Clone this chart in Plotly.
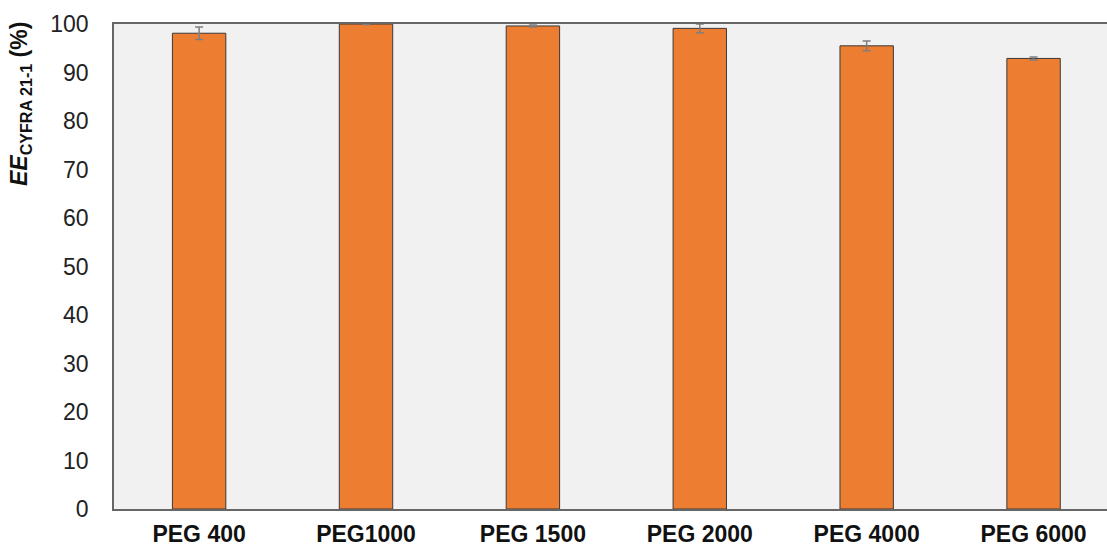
import plotly.graph_objects as go

categories = ["PEG 400", "PEG1000", "PEG 1500", "PEG 2000", "PEG 4000", "PEG 6000"]
values = [98.1, 100.0, 99.6, 99.1, 95.5, 92.9]
errors = [1.3, 0.1, 0.2, 0.9, 1.0, 0.3]
y_ticks = [0, 10, 20, 30, 40, 50, 60, 70, 80, 90, 100]

fig = go.Figure()
fig.add_trace(go.Bar(
    x=categories, y=values,
    marker=dict(color="#ED7D31", line=dict(color="#3a3a3a", width=1)),
    error_y=dict(type="data", array=errors, visible=True, color="#7f7f7f", thickness=1.5, width=4),
    width=0.32,
))

fig.update_layout(
    width=1107, height=547,
    margin=dict(l=114, r=0, t=24, b=38),
    paper_bgcolor="white",
    plot_bgcolor="#f1f1f1",
    showlegend=False,
    font=dict(family="Liberation Sans, Arial", color="#222"),
)
fig.update_xaxes(
    range=[-0.51, 5.44],
    showline=True, linecolor="#666", linewidth=1.5, mirror=True,
    tickfont=dict(size=23, color="#111", family="Liberation Sans, Arial", weight="bold"),
    ticks="", ticklabelstandoff=4, automargin=False,
)
fig.update_yaxes(
    range=[0, 100], tickvals=y_ticks, showgrid=False, zeroline=False,
    showline=True, linecolor="#666", linewidth=1.5,
    tickfont=dict(size=23, color="#222"), ticks="", ticklabelstandoff=19,
    automargin=False,
)
fig.add_annotation(
    text="<b><i>EE</i><sub>CYFRA 21-1</sub> (%)</b>",
    xref="paper", yref="paper",
    x=-(114 - 21) / 993, y=(509 - 104) / 485,
    xanchor="center", yanchor="middle",
    textangle=-90, showarrow=False,
    font=dict(size=23, color="#111", family="Liberation Sans, Arial"),
)

fig.write_html("out.html", config={"displayModeBar": False},
               post_script="document.body.style.margin='0';")
